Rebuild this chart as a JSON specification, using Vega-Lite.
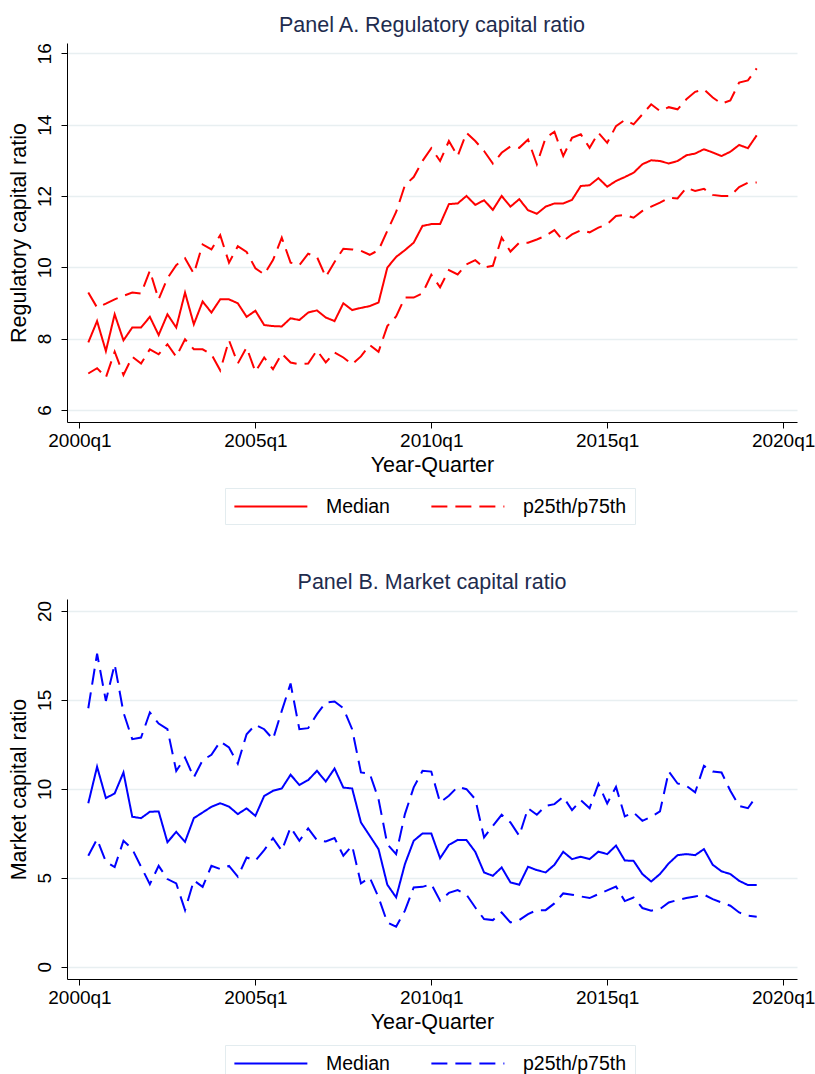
{
  "$schema": "https://vega.github.io/schema/vega-lite/v6.json",
  "background": "white",
  "padding": {"left": 8, "top": 15, "right": 0, "bottom": 0},
  "spacing": 46,
  "datasets": {
    "A": [
      {"q":1,"med":7.89,"p25":7.02,"p75":9.29},{"q":2,"med":8.49,"p25":7.17,"p75":8.87},{"q":3,"med":7.65,"p25":6.91,"p75":8.98},{"q":4,"med":8.68,"p25":7.63,"p75":9.10},{"q":5,"med":7.95,"p25":6.98,"p75":9.20},
      {"q":6,"med":8.31,"p25":7.49,"p75":9.29},{"q":7,"med":8.31,"p25":7.30,"p75":9.26},{"q":8,"med":8.61,"p25":7.70,"p75":9.90},{"q":9,"med":8.10,"p25":7.56,"p75":9.10},{"q":10,"med":8.68,"p25":7.84,"p75":9.69},
      {"q":11,"med":8.31,"p25":7.49,"p75":10.06},{"q":12,"med":9.29,"p25":7.98,"p75":10.25},{"q":13,"med":8.40,"p25":7.70,"p75":9.82},{"q":14,"med":9.04,"p25":7.70,"p75":10.64},{"q":15,"med":8.73,"p25":7.56,"p75":10.50},
      {"q":16,"med":9.10,"p25":7.11,"p75":10.90},{"q":17,"med":9.10,"p25":7.95,"p75":10.13},{"q":18,"med":8.99,"p25":7.30,"p75":10.59},{"q":19,"med":8.61,"p25":7.75,"p75":10.43},{"q":20,"med":8.78,"p25":7.07,"p75":9.97},
      {"q":21,"med":8.38,"p25":7.47,"p75":9.80},{"q":22,"med":8.35,"p25":7.14,"p75":10.20},{"q":23,"med":8.34,"p25":7.58,"p75":10.83},{"q":24,"med":8.57,"p25":7.33,"p75":10.13},{"q":25,"med":8.52,"p25":7.28,"p75":10.06},
      {"q":26,"med":8.73,"p25":7.30,"p75":10.38},{"q":27,"med":8.79,"p25":7.67,"p75":10.29},{"q":28,"med":8.59,"p25":7.33,"p75":9.73},{"q":29,"med":8.49,"p25":7.61,"p75":10.15},{"q":30,"med":8.99,"p25":7.47,"p75":10.52},
      {"q":31,"med":8.80,"p25":7.28,"p75":10.50},{"q":32,"med":8.86,"p25":7.50,"p75":10.46},{"q":33,"med":8.91,"p25":7.82,"p75":10.35},{"q":34,"med":9.01,"p25":7.63,"p75":10.48},{"q":35,"med":9.99,"p25":8.35,"p75":11.02},
      {"q":36,"med":10.29,"p25":8.62,"p75":11.55},{"q":37,"med":10.48,"p25":9.15,"p75":12.30},{"q":38,"med":10.69,"p25":9.15,"p75":12.53},{"q":39,"med":11.16,"p25":9.27,"p75":12.98},{"q":40,"med":11.21,"p25":9.79,"p75":13.34},
      {"q":41,"med":11.21,"p25":9.44,"p75":12.98},{"q":42,"med":11.77,"p25":9.92,"p75":13.54},{"q":43,"med":11.79,"p25":9.80,"p75":13.12},{"q":44,"med":12.00,"p25":10.08,"p75":13.77},{"q":45,"med":11.75,"p25":10.20,"p75":13.54},
      {"q":46,"med":11.88,"p25":9.99,"p75":13.26},{"q":47,"med":11.61,"p25":10.04,"p75":12.91},{"q":48,"med":12.00,"p25":10.83,"p75":13.21},{"q":49,"med":11.70,"p25":10.44,"p75":13.39},{"q":50,"med":11.91,"p25":10.69,"p75":13.35},
      {"q":51,"med":11.60,"p25":10.69,"p75":13.58},{"q":52,"med":11.50,"p25":10.78,"p75":12.89},{"q":53,"med":11.70,"p25":10.88,"p75":13.63},{"q":54,"med":11.79,"p25":11.04,"p75":13.80},{"q":55,"med":11.79,"p25":10.74,"p75":13.12},
      {"q":56,"med":11.89,"p25":10.92,"p75":13.63},{"q":57,"med":12.28,"p25":11.04,"p75":13.73},{"q":58,"med":12.30,"p25":10.98,"p75":13.35},{"q":59,"med":12.50,"p25":11.11,"p75":13.77},{"q":60,"med":12.26,"p25":11.21,"p75":13.49},
      {"q":61,"med":12.42,"p25":11.44,"p75":13.96},{"q":62,"med":12.53,"p25":11.47,"p75":14.13},{"q":63,"med":12.65,"p25":11.39,"p75":14.01},{"q":64,"med":12.89,"p25":11.58,"p75":14.29},{"q":65,"med":13.00,"p25":11.70,"p75":14.57},
      {"q":66,"med":12.98,"p25":11.81,"p75":14.38},{"q":67,"med":12.91,"p25":11.95,"p75":14.49},{"q":68,"med":12.98,"p25":11.93,"p75":14.43},{"q":69,"med":13.14,"p25":12.23,"p75":14.71},{"q":70,"med":13.19,"p25":12.14,"p75":14.92},
      {"q":71,"med":13.31,"p25":12.20,"p75":14.99},{"q":72,"med":13.22,"p25":12.03,"p75":14.76},{"q":73,"med":13.12,"p25":12.00,"p75":14.59},{"q":74,"med":13.24,"p25":12.00,"p75":14.68},{"q":75,"med":13.43,"p25":12.25,"p75":15.18},
      {"q":76,"med":13.34,"p25":12.37,"p75":15.24},{"q":77,"med":13.70,"p25":12.38,"p75":15.58}
    ],
    "B": [
      {"q":1,"med":9.19,"p25":6.24,"p75":14.53},{"q":2,"med":11.24,"p25":7.17,"p75":17.6},{"q":3,"med":9.48,"p25":5.9,"p75":14.94},{"q":4,"med":9.74,"p25":5.6,"p75":17.0},{"q":5,"med":10.92,"p25":7.08,"p75":14.29},
      {"q":6,"med":8.43,"p25":6.61,"p75":12.79},{"q":7,"med":8.35,"p25":5.62,"p75":12.88},{"q":8,"med":8.71,"p25":4.64,"p75":14.29},{"q":9,"med":8.73,"p25":5.67,"p75":13.67},{"q":10,"med":7.0,"p25":4.93,"p75":13.35},
      {"q":11,"med":7.58,"p25":4.68,"p75":11.0},{"q":12,"med":7.02,"p25":3.18,"p75":11.76},{"q":13,"med":8.35,"p25":4.85,"p75":10.64},{"q":14,"med":8.67,"p25":4.49,"p75":11.61},{"q":15,"med":8.99,"p25":5.67,"p75":11.91},
      {"q":16,"med":9.19,"p25":5.49,"p75":12.66},{"q":17,"med":9.0,"p25":5.67,"p75":12.32},{"q":18,"med":8.58,"p25":5.06,"p75":11.42},{"q":19,"med":8.9,"p25":6.14,"p75":13.07},{"q":20,"med":8.48,"p25":5.96,"p75":13.6},
      {"q":21,"med":9.6,"p25":6.55,"p75":13.35},{"q":22,"med":9.89,"p25":7.23,"p75":12.79},{"q":23,"med":10.02,"p25":6.52,"p75":14.38},{"q":24,"med":10.79,"p25":7.83,"p75":15.92},{"q":25,"med":10.22,"p25":7.08,"p75":13.35},
      {"q":26,"med":10.49,"p25":7.77,"p75":13.41},{"q":27,"med":11.01,"p25":7.11,"p75":14.2},{"q":28,"med":10.41,"p25":7.04,"p75":14.85},{"q":29,"med":11.14,"p25":7.23,"p75":14.91},{"q":30,"med":10.07,"p25":6.24,"p75":14.53},
      {"q":31,"med":10.02,"p25":6.8,"p75":13.35},{"q":32,"med":8.11,"p25":4.68,"p75":10.92},{"q":33,"med":7.36,"p25":5.02,"p75":10.86},{"q":34,"med":6.61,"p25":3.9,"p75":9.42},{"q":35,"med":4.61,"p25":2.49,"p75":6.89},
      {"q":36,"med":3.9,"p25":2.25,"p75":6.33},{"q":37,"med":5.77,"p25":3.15,"p75":8.58},{"q":38,"med":7.08,"p25":4.46,"p75":10.08},{"q":39,"med":7.49,"p25":4.49,"p75":11.01},{"q":40,"med":7.49,"p25":4.64,"p75":10.97},
      {"q":41,"med":6.1,"p25":3.71,"p75":9.23},{"q":42,"med":6.85,"p25":4.15,"p75":9.61},{"q":43,"med":7.13,"p25":4.31,"p75":10.11},{"q":44,"med":7.12,"p25":4.05,"p75":9.98},{"q":45,"med":6.46,"p25":3.33,"p75":9.42},
      {"q":46,"med":5.3,"p25":2.68,"p75":7.27},{"q":47,"med":5.11,"p25":2.62,"p75":7.92},{"q":48,"med":5.58,"p25":3.05,"p75":8.54},{"q":49,"med":4.74,"p25":2.49,"p75":8.11},{"q":50,"med":4.61,"p25":2.62,"p75":7.36},
      {"q":51,"med":5.62,"p25":2.96,"p75":8.91},{"q":52,"med":5.43,"p25":3.18,"p75":8.54},{"q":53,"med":5.3,"p25":3.18,"p75":9.04},{"q":54,"med":5.73,"p25":3.56,"p75":9.14},{"q":55,"med":6.46,"p25":4.12,"p75":9.55},
      {"q":56,"med":6.05,"p25":4.05,"p75":8.8},{"q":57,"med":6.18,"p25":3.95,"p75":9.36},{"q":58,"med":6.05,"p25":3.86,"p75":8.91},{"q":59,"med":6.47,"p25":4.08,"p75":10.28},{"q":60,"med":6.33,"p25":4.29,"p75":9.18},
      {"q":61,"med":6.81,"p25":4.51,"p75":10.11},{"q":62,"med":5.97,"p25":3.69,"p75":8.45},{"q":63,"med":5.95,"p25":3.89,"p75":8.67},{"q":64,"med":5.21,"p25":3.3,"p75":8.2},{"q":65,"med":4.79,"p25":3.15,"p75":8.43},
      {"q":66,"med":5.21,"p25":3.24,"p75":8.73},{"q":67,"med":5.81,"p25":3.61,"p75":10.97},{"q":68,"med":6.27,"p25":3.75,"p75":10.3},{"q":69,"med":6.33,"p25":3.86,"p75":10.17},{"q":70,"med":6.27,"p25":3.95,"p75":9.8},
      {"q":71,"med":6.61,"p25":4.05,"p75":11.29},{"q":72,"med":5.73,"p25":3.8,"p75":10.97},{"q":73,"med":5.36,"p25":3.61,"p75":10.92},{"q":74,"med":5.21,"p25":3.43,"p75":9.89},{"q":75,"med":4.83,"p25":3.05,"p75":9.04},
      {"q":76,"med":4.59,"p25":2.87,"p75":8.91},{"q":77,"med":4.59,"p25":2.81,"p75":9.61}
    ]
  },
  "vconcat": [
    {
      "title": {"text": "Panel A. Regulatory capital ratio"},
      "width": 730,
      "height": 379,
      "data": {"name": "A"},
      "encoding": {
        "x": {"field": "q", "type": "quantitative", "title": "Year-Quarter",
              "scale": {"domain": [-1.42, 81.58], "nice": false, "zero": false},
              "axis": {"values": [0, 20, 40, 60, 80], "labelExpr": "(2000 + datum.value / 4) + 'q1'"}}
      },
      "layer": [
        {"mark": {"type": "line", "color": "red", "strokeWidth": 2},
         "encoding": {
           "y": {"field": "med", "type": "quantitative", "title": "Regulatory capital ratio", "scale": {"domain": [5.66, 16.29], "nice": false, "zero": false}, "axis": {"values": [6, 8, 10, 12, 14, 16]}},
           "strokeDash": {"datum": "Median", "type": "nominal", "scale": {"domain": ["Median", "p25th/p75th"], "range": [[1, 0], [16, 8]]},
                          "legend": {"orient": "none", "legendX": 158, "legendY": 445, "symbolStrokeColor": "red"}}}},
        {"mark": {"type": "line", "color": "red", "strokeWidth": 2},
         "encoding": {
           "y": {"field": "p25", "type": "quantitative", "title": "Regulatory capital ratio", "scale": {"domain": [5.66, 16.29], "nice": false, "zero": false}, "axis": {"values": [6, 8, 10, 12, 14, 16]}},
           "strokeDash": {"datum": "p25th/p75th", "type": "nominal"}}},
        {"mark": {"type": "line", "color": "red", "strokeWidth": 2},
         "encoding": {
           "y": {"field": "p75", "type": "quantitative", "title": "Regulatory capital ratio", "scale": {"domain": [5.66, 16.29], "nice": false, "zero": false}, "axis": {"values": [6, 8, 10, 12, 14, 16]}},
           "strokeDash": {"datum": "p25th/p75th", "type": "nominal"}}}
      ]
    },
    {
      "title": {"text": "Panel B. Market capital ratio"},
      "width": 730,
      "height": 380,
      "data": {"name": "B"},
      "encoding": {
        "x": {"field": "q", "type": "quantitative", "title": "Year-Quarter",
              "scale": {"domain": [-1.42, 81.58], "nice": false, "zero": false},
              "axis": {"values": [0, 20, 40, 60, 80], "labelExpr": "(2000 + datum.value / 4) + 'q1'"}}
      },
      "layer": [
        {"mark": {"type": "line", "color": "blue", "strokeWidth": 2},
         "encoding": {
           "y": {"field": "med", "type": "quantitative", "title": "Market capital ratio", "scale": {"domain": [-0.69, 20.67], "nice": false, "zero": false}, "axis": {"values": [0, 5, 10, 15, 20]}},
           "strokeDash": {"datum": "Median", "type": "nominal", "scale": {"domain": ["Median", "p25th/p75th"], "range": [[1, 0], [16, 8]]},
                          "legend": {"orient": "none", "legendX": 158, "legendY": 446, "symbolStrokeColor": "blue"}}}},
        {"mark": {"type": "line", "color": "blue", "strokeWidth": 2},
         "encoding": {
           "y": {"field": "p25", "type": "quantitative", "title": "Market capital ratio", "scale": {"domain": [-0.69, 20.67], "nice": false, "zero": false}, "axis": {"values": [0, 5, 10, 15, 20]}},
           "strokeDash": {"datum": "p25th/p75th", "type": "nominal"}}},
        {"mark": {"type": "line", "color": "blue", "strokeWidth": 2},
         "encoding": {
           "y": {"field": "p75", "type": "quantitative", "title": "Market capital ratio", "scale": {"domain": [-0.69, 20.67], "nice": false, "zero": false}, "axis": {"values": [0, 5, 10, 15, 20]}},
           "strokeDash": {"datum": "p25th/p75th", "type": "nominal"}}}
      ]
    }
  ],
  "resolve": {
    "scale": {"x": "independent", "y": "independent", "strokeDash": "independent"},
    "legend": {"strokeDash": "independent"}
  },
  "config": {
    "font": "Liberation Sans",
    "view": {"stroke": null},
    "title": {"fontSize": 21.5, "fontWeight": "normal", "color": "#1e2c4e", "offset": 6, "anchor": "middle"},
    "axis": {"domainColor": "#000000", "tickColor": "#000000", "tickSize": 6, "labelFontSize": 19, "labelColor": "#000000",
             "titleFontSize": 21.5, "titleFontWeight": "normal", "titleColor": "#000000", "grid": false, "labelFlush": false, "labelOverlap": false},
    "axisX": {"labelPadding": 3, "titlePadding": 4},
    "axisY": {"grid": true, "gridColor": "#e8eff1", "gridWidth": 1.5, "labelAngle": -90, "labelAlign": "center", "labelBaseline": "bottom", "labelPadding": 7, "titlePadding": 5},
    "legend": {"title": null, "direction": "horizontal", "columns": 2, "symbolType": "M-1,0H7", "symbolSize": 333, "symbolStrokeWidth": 2,
               "labelFontSize": 19.5, "labelColor": "#000000", "labelOffset": 72, "columnPadding": 37, "padding": 8,
               "strokeColor": "#e3ecef", "fillColor": "white"}
  }
}
